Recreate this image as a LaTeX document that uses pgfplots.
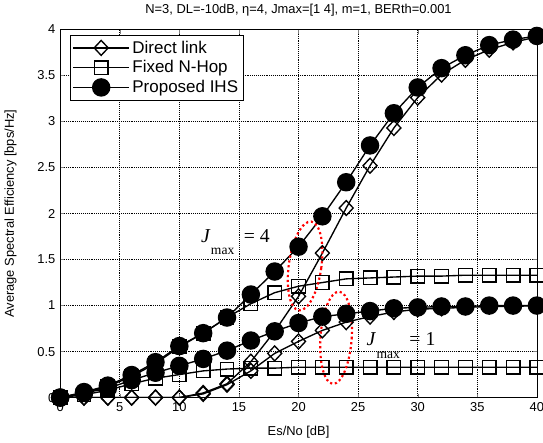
\documentclass[border=0pt]{standalone}
\usepackage{pgfplots}
\pgfplotsset{compat=1.18}
\usepackage{fontspec}
\setmainfont{Liberation Sans}
\newfontfamily\tnr{Liberation Serif}
\usetikzlibrary{shapes.geometric}

\pgfplotstableread{
x   dlf  nhf  ihsf  dlo  nho  ihso
0   0    0    0     0    0    0
2   0    0.05 0.06  0    0.03 0.05
4   0    0.12 0.13  0    0.08 0.10
6   0    0.23 0.245 0    0.15 0.19
8   0    0.37 0.385 0    0.21 0.27
10  0    0.55 0.56  0    0.25 0.345
12  0.05 0.70 0.70  0.04 0.29 0.42
14  0.15 0.87 0.87  0.14 0.31 0.51
16  0.39 1.02 1.12  0.29 0.32 0.62
18  0.72 1.14 1.37  0.48 0.32 0.72
20  1.10 1.21 1.64  0.61 0.33 0.81
22  1.57 1.25 1.97  0.73 0.33 0.88
24  2.06 1.29 2.34  0.82 0.33 0.91
26  2.52 1.30 2.74  0.88 0.33 0.94
28  2.93 1.31 3.09  0.93 0.33 0.97
30  3.26 1.32 3.37  0.96 0.33 0.98
32  3.51 1.32 3.58  0.97 0.33 0.99
34  3.67 1.33 3.72  0.98 0.33 0.99
36  3.78 1.33 3.83  0.99 0.33 1.00
38  3.86 1.33 3.89  0.99 0.33 1.00
40  3.92 1.33 3.93  1.00 0.33 1.00
}\data

\newcommand{\jmax}[1]{\textit{J}\hspace{0.3pt}\raisebox{-9.5pt}{\fontsize{10}{11}\selectfont max}\hspace{7pt}= #1}

\begin{document}
\begin{tikzpicture}
\begin{axis}[
name=ax,
scale only axis,width=351pt,height=271pt,
xmin=0,xmax=40,ymin=0,ymax=4,
xtick={0,5,...,40},ytick={0,0.5,...,4},
grid=major,major grid style={black,densely dotted,line width=0.4pt},
tick align=inside,major tick length=3pt,
/pgf/number format/assume math mode=true,
tick label style={font=\fontsize{9.5}{11}\selectfont},
label style={font=\fontsize{9.5}{11}\selectfont},
ylabel style={yshift=8.5pt},
xlabel style={yshift=-4pt},
title style={font=\fontsize{9.5}{11}\selectfont},
title={N=3, DL=-10dB, η=4, Jmax=[1 4], m=1, BERth=0.001},
xlabel={Es/No [dB]},
ylabel={Average Spectral Efficiency [bps/Hz]},
legend style={at={(0.02,0.985)},anchor=north west,font=\fontsize{12.5}{14}\selectfont,
  draw=black,inner sep=2pt,row sep=0pt},
legend cell align=left,
legend image code/.code={\draw[mark repeat=2,mark phase=2] plot coordinates {(0cm,0cm)(0.72cm,0cm)(1.44cm,0cm)};},
every axis plot/.append style={black,line width=1pt},
]
\addplot[mark=diamond,mark size=5.5pt,mark options={fill=white,line width=1pt,xscale=1.25}] table[x=x,y=dlf]{\data};
\addlegendentry{Direct link}
\addplot[mark=square,mark size=5pt,mark options={fill=white,line width=1pt}] table[x=x,y=nhf]{\data};
\addlegendentry{Fixed N-Hop}
\addplot[mark=*,mark size=6.3pt,mark options={fill=black}] table[x=x,y=ihsf]{\data};
\addlegendentry{Proposed IHS}
\addplot[forget plot,mark=diamond,mark size=5.5pt,mark options={fill=white,line width=1pt,xscale=1.25}] table[x=x,y=dlo]{\data};
\addplot[forget plot,mark=square,mark size=5pt,mark options={fill=white,line width=1pt}] table[x=x,y=nho]{\data};
\addplot[forget plot,mark=*,mark size=6.3pt,mark options={fill=black}] table[x=x,y=ihso]{\data};

\node[draw=red,dotted,line width=1.6pt,ellipse,minimum width=24pt,minimum height=66pt,rotate=-8,inner sep=0pt]
  at (axis cs:20.55,1.43) {};
\node[draw=red,dotted,line width=1.6pt,ellipse,minimum width=23pt,minimum height=68pt,rotate=-4,inner sep=0pt]
  at (axis cs:23.15,0.65) {};
\node[font=\fontsize{14.5}{16}\selectfont\tnr,inner sep=0pt] at (axis cs:14.7,1.69) {\jmax{4}};
\node[font=\fontsize{14.5}{16}\selectfont\tnr,inner sep=0pt] at (axis cs:28.6,0.57) {\jmax{1}};
\end{axis}
\pgfresetboundingbox
\path (ax.outer north west) rectangle ([xshift=4.5pt]ax.east |- ax.outer south);
\end{tikzpicture}
\end{document}
